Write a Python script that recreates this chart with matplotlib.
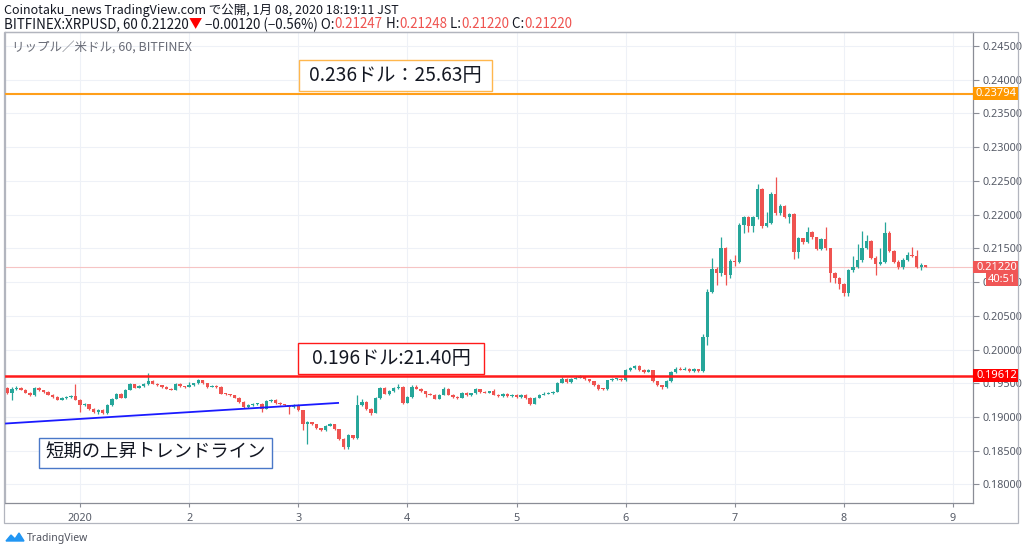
import numpy as np
import matplotlib
matplotlib.use('Agg')
import matplotlib.pyplot as plt
from matplotlib.patches import Rectangle, Polygon

plt.rcParams['font.family'] = ['Noto Sans', 'Noto Sans CJK JP', 'DejaVu Sans']

# ---------------- data (prices in 1e-5 USD) ----------------
first_open = 19435
close = [19361, 19420, 19435, 19405, 19361, 19321, 19430, 19396, 19371, 19331,
         19297, 19257, 19287, 19297, 19306, 19257, 19173, 19188, 19123, 19074,
         19108, 19059, 19173, 19272, 19346, 19287, 19405, 19485, 19435, 19460,
         19485, 19534, 19495, 19470, 19445, 19420, 19405, 19495, 19455, 19445,
         19475, 19500, 19545, 19500, 19445, 19460, 19445, 19346, 19336, 19321,
         19287, 19222, 19148, 19173, 19188, 19193, 19123, 19237, 19257, 19207,
         19188, 19173, 19148, 19178, 19099, 18900, 18920, 18890, 18830, 18801,
         18870, 18890, 18816, 18678, 18554, 18727, 18688, 19172, 19222, 19123,
         19064, 19282, 19430, 19346, 19380, 19430, 19445, 19212, 19296, 19445,
         19420, 19380, 19346, 19330, 19272, 19330, 19420, 19330, 19296, 19282,
         19360, 19320, 19350, 19410, 19370, 19360, 19380, 19330, 19310, 19346,
         19311, 19331, 19296, 19331, 19281, 19197, 19281, 19331, 19346, 19356,
         19371, 19509, 19569, 19519, 19569, 19583, 19593, 19559, 19529, 19480,
         19420, 19410, 19544, 19559, 19569, 19544, 19692, 19727, 19752, 19692,
         19668, 19692, 19529, 19470, 19445, 19534, 19667, 19707, 19700, 19712,
         19677, 19707, 19683, 20187, 20855, 21201, 21137, 21498, 21102, 21315,
         21300, 21844, 21958, 21829, 21958, 22373, 21829, 21878, 22304, 22017,
         22126, 21968, 22003, 21448, 21646, 21592, 21745, 21661, 21488, 21636,
         21498, 21137, 21067, 20968, 20840, 21176, 21226, 21325, 21512, 21612,
         21364, 21265, 21300, 21730, 21463, 21300, 21216, 21325, 21399, 21389,
         21226, 21247, 21220]
high = [19450, 19440, 19455, 19450, 19415, 19370, 19445, 19440, 19405, 19380,
        19340, 19305, 19300, 19310, 19320, 19495, 19265, 19200, 19195, 19130,
        19120, 19115, 19185, 19285, 19360, 19355, 19420, 19500, 19495, 19475,
        19500, 19653, 19545, 19505, 19480, 19455, 19430, 19505, 19500, 19465,
        19525, 19510, 19570, 19555, 19510, 19470, 19470, 19455, 19355, 19345,
        19330, 19295, 19230, 19185, 19200, 19205, 19200, 19250, 19270, 19265,
        19215, 19195, 19180, 19190, 19185, 19110, 18945, 18930, 18900, 18840,
        18885, 18905, 18900, 18825, 18690, 18740, 18735, 19321, 19270, 19240,
        19130, 19295, 19445, 19445, 19395, 19445, 19494, 19460, 19310, 19470,
        19480, 19430, 19390, 19355, 19340, 19340, 19440, 19430, 19340, 19305,
        19375, 19370, 19360, 19430, 19420, 19385, 19390, 19420, 19340, 19355,
        19355, 19340, 19340, 19345, 19340, 19290, 19290, 19345, 19365, 19370,
        19385, 19520, 19595, 19580, 19580, 19600, 19615, 19605, 19570, 19540,
        19490, 19430, 19555, 19575, 19580, 19580, 19705, 19740, 19765, 19767,
        19705, 19705, 19700, 19540, 19480, 19545, 19680, 19735, 19745, 19745,
        19730, 19730, 19715, 20230, 20900, 21350, 21230, 21671, 21520, 21340,
        21400, 21870, 21980, 21975, 21975, 22452, 22390, 22040, 22330, 22551,
        22160, 22140, 22020, 22020, 21670, 21660, 21810, 21760, 21670, 21650,
        21810, 21510, 21150, 21080, 20990, 21190, 21380, 21560, 21755, 21700,
        21630, 21380, 21500, 21890, 21750, 21480, 21320, 21350, 21450, 21520,
        21480, 21280, 21248]
low = [19345, 19257, 19405, 19395, 19350, 19305, 19315, 19385, 19360, 19320,
       19285, 19245, 19250, 19270, 19285, 19245, 19074, 19160, 19110, 19060,
       19050, 19045, 19050, 19165, 19265, 19275, 19280, 19395, 19425, 19425,
       19450, 19475, 19485, 19460, 19435, 19410, 19395, 19395, 19445, 19435,
       19440, 19465, 19490, 19490, 19435, 19440, 19435, 19336, 19320, 19310,
       19275, 19210, 19135, 19140, 19165, 19180, 19080, 19115, 19225, 19195,
       19175, 19160, 19050, 19140, 19090, 18800, 18604, 18880, 18815, 18790,
       18795, 18860, 18805, 18665, 18530, 18529, 18675, 18680, 19160, 19110,
       19024, 19055, 19270, 19335, 19330, 19370, 19420, 19195, 19200, 19285,
       19410, 19365, 19300, 19320, 19260, 19265, 19320, 19320, 19285, 19270,
       19275, 19310, 19310, 19340, 19360, 19350, 19350, 19320, 19300, 19300,
       19300, 19300, 19285, 19285, 19270, 19180, 19190, 19275, 19320, 19340,
       19345, 19365, 19500, 19510, 19510, 19560, 19575, 19545, 19520, 19465,
       19405, 19395, 19400, 19535, 19545, 19530, 19535, 19680, 19715, 19680,
       19655, 19660, 19515, 19455, 19420, 19435, 19525, 19655, 19690, 19690,
       19660, 19670, 19665, 19660, 20070, 20840, 20960, 21090, 20954, 21060,
       21240, 21280, 21730, 21740, 21740, 21940, 21800, 21810, 21860, 22000,
       21990, 21950, 21880, 21349, 21360, 21570, 21580, 21640, 21470, 21470,
       21480, 21000, 20990, 20900, 20790, 20800, 21150, 21210, 21300, 21490,
       21340, 21100, 21250, 21280, 21440, 21280, 21195, 21200, 21310, 21370,
       21210, 21180, 21220]
start_hour = -16          # first candle: Dec 31, 08:00 (hours before Jan 1)

day_ticks = [1, 2, 3, 4, 5, 6, 7, 8, 9]
day_labels = ['2020', '2', '3', '4', '5', '6', '7', '8', '9']
price_ticks = [0.180, 0.185, 0.190, 0.195, 0.200, 0.205, 0.210, 0.215,
               0.220, 0.225, 0.230, 0.235, 0.240, 0.245]

support_level = 0.19612
target_level = 0.23794
last_price = 0.21220
trend_x = [0.3126, 3.365]
trend_y = [0.18902, 0.19208]

# ---------------- figure ----------------
W, H = 1024, 552
fig = plt.figure(figsize=(W / 100, H / 100), dpi=100)
fig.patch.set_facecolor('white')


def fx(px):
    return px / W


def fy(py):
    return 1 - py / H


ax = fig.add_axes([fx(5), fy(503), fx(973) - fx(5), fy(32) - fy(503)])
ax.set_xlim(0.3126, 9.183)
ax.set_ylim(0.17724, 0.247077)

C = np.array(close) / 1e5
O = np.concatenate([[first_open], close[:-1]]) / 1e5
Hh = np.array(high) / 1e5
Ll = np.array(low) / 1e5
x = 1 + (np.arange(len(C)) + start_hour) / 24.0
up = C >= O
TEAL, RED = '#26a69a', '#ef5350'
cols = np.where(up, TEAL, RED)

ax.vlines(x, Ll, Hh, colors=cols, lw=0.9, zorder=3)
body_lo = np.minimum(O, C)
body_h = np.maximum(np.abs(C - O), 0.00012)
ax.bar(x, body_h, bottom=body_lo, width=0.031, color=cols, linewidth=0, zorder=4)

# grid
for t in day_ticks:
    ax.axvline(t, color='#eef1f7', lw=0.8, zorder=0)
for p in price_ticks:
    ax.axhline(p, color='#eef1f7', lw=0.8, zorder=0)

# level lines
ax.axhline(last_price, color='#f6c4c4', lw=0.8, zorder=2)
ax.axhline(support_level, color='#ff1a1a', lw=1.8, zorder=5)
ax.axhline(target_level, color='#ff9f1a', lw=1.5, zorder=5)
ax.plot(trend_x, trend_y, color='#1a1aff', lw=1.3, zorder=6)

# axes styling
for s in ['left', 'top']:
    ax.spines[s].set_color('#b2b5be')
    ax.spines[s].set_linewidth(0.9)
for s in ['right', 'bottom']:
    ax.spines[s].set_color('#8a8d96')
    ax.spines[s].set_linewidth(0.9)
ax.yaxis.tick_right()
ax.set_yticks(price_ticks)
ax.set_yticklabels(['%.5f' % p for p in price_ticks])
ax.set_xticks(day_ticks)
ax.set_xticklabels(day_labels)
ax.tick_params(axis='y', length=4, width=0.8, color='#8a8d96', labelcolor='#555a66',
               labelsize=7.8, pad=3)
ax.tick_params(axis='x', length=3, width=0.8, color='#8a8d96', labelcolor='#555a66',
               labelsize=7.8, pad=4)

# outer frame
fig.add_artist(Rectangle((fx(4), fy(523)), fx(1018) - fx(4), fy(32) - fy(523),
                         transform=fig.transFigure, fill=False, ec='#b2b5be', lw=0.9))


# price tags on right axis
def tag(y, text, color, x0=973, x1=1018, h=12.5):
    disp_y = ax.transData.transform((1, y))[1]
    py = H - disp_y
    fig.add_artist(Rectangle((fx(x0), fy(py + h / 2)), fx(x1) - fx(x0), h / H,
                             transform=fig.transFigure, fc=color, ec='none', zorder=10))
    fig.text(fx((x0 + x1) / 2 + 1), fy(py), text, color='white', fontsize=8,
             ha='center', va='center', zorder=11)
    return py


tag(target_level, '%.5f' % target_level, '#ff9800')
py_last = tag(last_price, '%.5f' % last_price, '#f05656')
tag(support_level, '%.5f' % support_level, '#ff0000')
# countdown tag below last price
fig.add_artist(Rectangle((fx(986), fy(py_last + 6.25 + 13)), fx(1018) - fx(986), 13 / H,
                         transform=fig.transFigure, fc='#f05656', ec='none', zorder=10))
fig.text(fx(1002), fy(py_last + 6.25 + 6.5), '40:51', color='white', fontsize=8,
         ha='center', va='center', zorder=11)


# annotation boxes
def box(x0, y0, x1, y1, text, ec, fs):
    fig.add_artist(Rectangle((fx(x0), fy(y1)), fx(x1) - fx(x0), fy(y0) - fy(y1),
                             transform=fig.transFigure, fc='white', ec=ec, lw=1.0, zorder=8))
    fig.text(fx((x0 + x1) / 2), fy((y0 + y1) / 2), text, fontsize=fs, color='#131722',
             ha='center', va='center', zorder=9,
             family=['Noto Sans CJK JP', 'DejaVu Sans'])


box(299, 60, 492, 91, '0.236ドル：25.63円', '#ffb74d', 13.8)
box(298, 343, 484, 374, '0.196ドル:21.40円', '#ff1a1a', 13.8)
box(39, 438, 272, 468, '短期の上昇トレンドライン', '#4a78c8', 13.2)

# chart title inside
fig.text(fx(12), fy(47), 'リップル／米ドル, 60, BITFINEX', fontsize=9, color='#6a6d78',
         ha='left', va='center', family=['Noto Sans CJK JP', 'DejaVu Sans'])

# header
hfam = ['Noto Sans CJK JP', 'DejaVu Sans']
fig.text(fx(4), fy(10), 'Coinotaku_news TradingView.com で公開, 1月 08, 2020 18:19:11 JST',
         fontsize=9.0, color='#131722', ha='left', va='center', family=hfam)

fig.canvas.draw()
renderer = fig.canvas.get_renderer()
parts = [('BITFINEX:XRPUSD, 60 0.21220', '#131722'), ('▼', '#ff0000'),
         (' −0.00120 (−0.56%) O:', '#131722'), ('0.21247', RED), (' H:', '#131722'),
         ('0.21248', RED), (' L:', '#131722'), ('0.21220', RED), (' C:', '#131722'),
         ('0.21220', RED)]
hfs = 9.6
prefix = ''
for s, c in parts:
    if prefix:
        tmp = fig.text(0, 0, prefix, fontsize=hfs, family=hfam)
        wpx = tmp.get_window_extent(renderer).width
        tmp.remove()
    else:
        wpx = 0
    fig.text(fx(4 + wpx), fy(24.5), s, fontsize=hfs, color=c, ha='left', va='center',
             family=hfam)
    prefix += s

# TradingView logo
logo = Polygon([[fx(6), fy(541)], [fx(11), fy(535)], [fx(15), fy(539)], [fx(19), fy(533)],
                [fx(24), fy(541)]], closed=True, transform=fig.transFigure,
               fc='#2196f3', ec='#2196f3', lw=1)
fig.add_artist(logo)
fig.text(fx(27), fy(538), 'TradingView', fontsize=7.5, color='#50535e', ha='left', va='center')

fig.savefig('out.png', dpi=100, facecolor='white')
